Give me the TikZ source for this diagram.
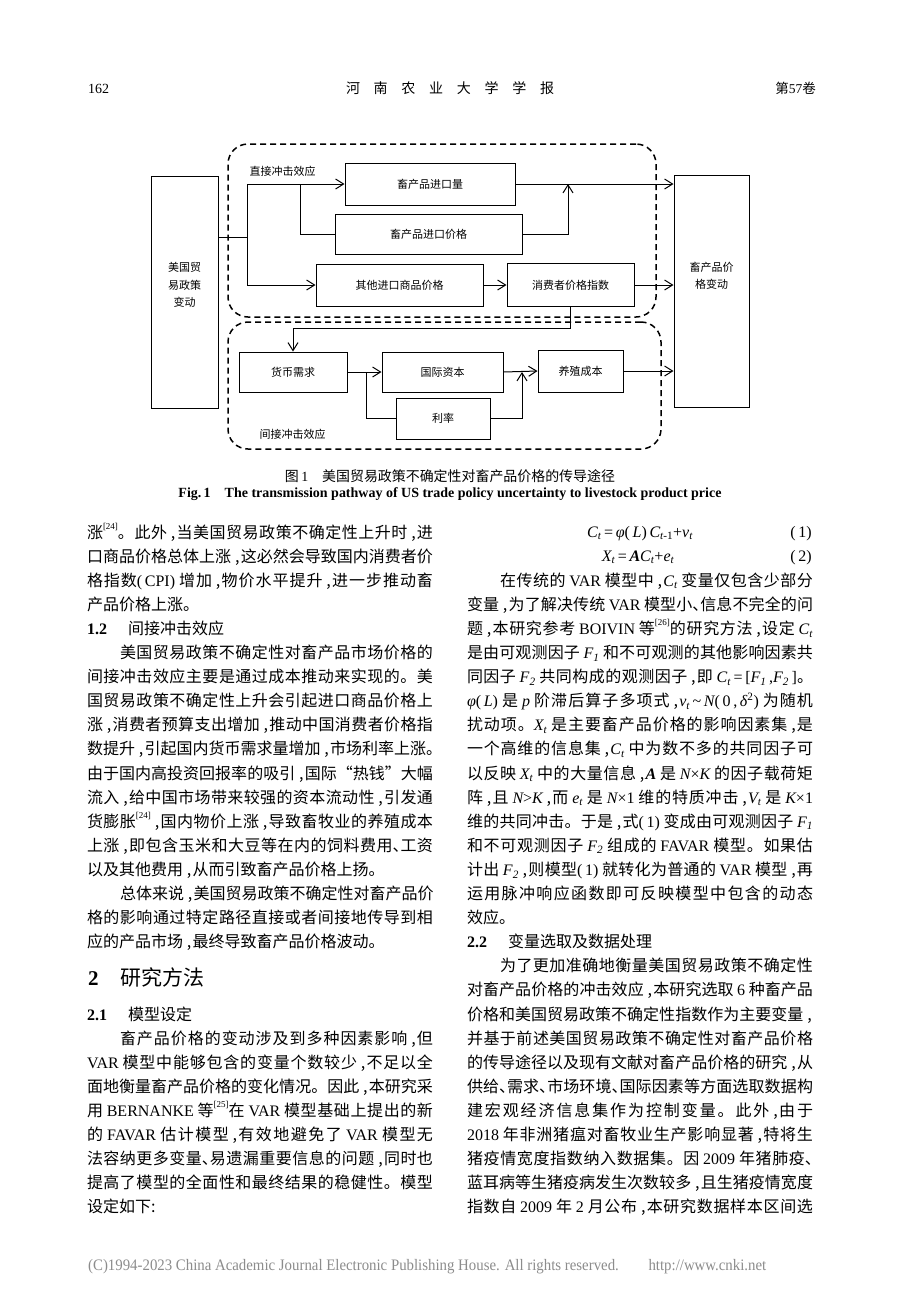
\documentclass[tikz,border=0pt]{standalone}
\usepackage{fontspec}
\usepackage{graphicx}
\setmainfont{Liberation Serif}
\newfontfamily\hei{Noto Sans CJK SC}
\usetikzlibrary{arrows.meta}
\hbadness=10000 \hfuzz=60pt \vbadness=10000
\newcount\cc
\cc="3000 \loop\ifnum\cc<"A000 \XeTeXcharclass\cc=10 \advance\cc by 1 \repeat
\cc="FF00 \loop\ifnum\cc<"FFF0 \XeTeXcharclass\cc=10 \advance\cc by 1 \repeat
\XeTeXinterchartoks 10 10 = {\hskip 0pt plus 2pt\relax}
\newcount\lc
\newcommand\cm{\hbox to .6em{\hfil,\kern.08em}}
\newcommand\dn{\hbox to .5em{、\hss}}
\newcommand\rf[1]{\raisebox{.55em}{\rmfamily\fontsize{9}{9}\selectfont[#1]}}
\newcommand\s{\hskip 3.5pt plus 1pt\relax}
\newcommand\R[1]{{\rmfamily #1}}
\newcommand\I[1]{{\rmfamily\itshape #1}}
\newcommand\sub[1]{\textsubscript{\rmfamily\itshape #1}}
\newcommand\bodyfont{\hei\fontsize{16}{16}\selectfont}
\newcommand\figfont{\hei\fontsize{11}{17.5}\selectfont}
\newcommand\JL[3]{\global\advance\lc by 1\relax
  \node[txt] (t\the\lc) at (#1,{538+24.1*#2}) {\hbox to 346pt{#3}};}
\newcommand\NL[3]{\global\advance\lc by 1\relax
  \node[txt] (t\the\lc) at (#1,{538+24.1*#2}) {#3};}
\begin{document}
\XeTeXinterchartokenstate=1
\begin{tikzpicture}[x=1pt,y=-1pt,
  txt/.style={anchor=base west, inner sep=0pt, outer sep=0pt, font=\bodyfont},
  box/.style={draw, line width=1pt, inner sep=0pt, font=\figfont},
  ftxt/.style={inner sep=0pt, font=\figfont, align=center},
  conn/.style={line width=1pt},
  arr/.style={line width=1pt, -{Straight Barb[length=8pt,width=10pt]}},
  dbox/.style={draw, line width=1.5pt, dash pattern=on 6pt off 4pt, rounded corners=20pt, inner sep=0pt}]
\useasboundingbox (0,0) rectangle (920,1302);
\fill[white] (0,0) rectangle (920,1302);

% ---------- header ----------
\node[anchor=base west, inner sep=0pt, font=\rmfamily\fontsize{14}{14}\selectfont] (pg) at (88,93) {162};
\node[inner sep=0pt, font=\hei\fontsize{14}{14}\selectfont] (ttl) at (450,88) {\hbox to 208pt{河\hfil 南\hfil 农\hfil 业\hfil 大\hfil 学\hfil 学\hfil 报}};
\node[anchor=base east, inner sep=0pt, font=\hei\fontsize{13.5}{14}\selectfont] (vol) at (816,93) {第\R{57}卷};

% ---------- figure ----------
\node[dbox, minimum width=428pt, minimum height=173pt] (grpA) at (442,230.5) {};
\node[dbox, minimum width=433pt, minimum height=127pt] (grpB) at (444.5,385.5) {};

\node[box, minimum width=67pt, minimum height=232pt] (us) at (184.5,292) {};
\node[ftxt] (usT) at (184.5,285) {美国贸\\易政策\\变动};
\node[box, minimum width=75pt, minimum height=232pt] (price) at (711.5,291) {};
\node[ftxt] (priceT) at (711.5,276) {畜产品价\\格变动};

\node[box, minimum width=170pt, minimum height=42pt] (imq) at (430,184) {畜产品进口量};
\node[box, minimum width=187pt, minimum height=40pt] (imp) at (428.5,234) {畜产品进口价格};
\node[box, minimum width=167pt, minimum height=42pt] (oth) at (399.5,285) {其他进口商品价格};
\node[box, minimum width=127pt, minimum height=43pt] (cpi) at (570.5,285) {消费者价格指数};

\node[box, minimum width=108pt, minimum height=40pt] (money) at (293,372) {货币需求};
\node[box, minimum width=121pt, minimum height=40pt] (cap) at (442.5,372) {国际资本};
\node[box, minimum width=94pt, minimum height=41pt] (rate) at (443,418.5) {利率};
\node[box, minimum width=85pt, minimum height=42pt] (cost) at (580.5,371) {养殖成本};

\node[ftxt] (labA) at (282.5,171) {直接冲击效应};
\node[ftxt] (labB) at (292.5,434) {间接冲击效应};

\coordinate (j0) at (247,237);
\coordinate (jA) at (247,184);
\coordinate (jB) at (247,285);
\coordinate (jP) at (300,184);
\coordinate (jC) at (568,184);
\coordinate (jD) at (293,328);
\coordinate (jE) at (366,372);
\coordinate (jF) at (522,372);

\draw[conn] (us.east |- j0) -- (j0);
\draw[conn] (jA) -- (jB);
\draw[arr] (jA) -- (imq.west);
\draw[arr] (jB) -- (oth.west);
\draw[conn] (jP) |- (imp.west);
\draw[arr] (imq.east) -- (imq.east -| price.west);
\draw[arr] (imp.east) -| (jC);
\draw[arr] (oth.east) -- (cpi.west);
\draw[arr] (cpi.east) -- (cpi.east -| price.west);
\draw[arr] (cpi.south) |- (jD) -- (money.north);
\draw[arr] (money.east) -- (cap.west);
\draw[conn] (jE) |- (rate.west);
\draw[arr] (cap.east) -- (cost.west);
\draw[arr] (rate.east) -| (jF);
\draw[arr] (cost.east) -- (cost.east -| price.west);

% ---------- captions ----------
\node[inner sep=0pt] (cap1) at (450,476) {\resizebox{330pt}{\height}{\hei\fontsize{14}{14}\selectfont 图\,\R{1}\quad 美国贸易政策不确定性对畜产品价格的传导途径}};
\node[inner sep=0pt] (cap2) at (450,494) {\resizebox{543pt}{\height}{\rmfamily\bfseries\fontsize{14}{14}\selectfont Fig.\,1\quad The transmission pathway of US trade policy uncertainty to livestock product price}};

% ---------- left column ----------
\JL{87}{0}{涨\rf{24}。此外\cm 当美国贸易政策不确定性上升时\cm 进}
\JL{87}{1}{口商品价格总体上涨\cm 这必然会导致国内消费者价}
\JL{87}{2}{格指数\R{(\,CPI)}\s 增加\cm 物价水平提升\cm 进一步推动畜}
\NL{87}{3}{产品价格上涨。}
\node[txt, font=\rmfamily\bfseries\fontsize{16}{16}\selectfont] (h12) at (87,{538+24.1*4}) {1.2};
\node[txt] (h12b) at (128,{538+24.1*4}) {间接冲击效应};
\JL{87}{5}{\hskip 33pt 美国贸易政策不确定性对畜产品市场价格的}
\JL{87}{6}{间接冲击效应主要是通过成本推动来实现的。美}
\JL{87}{7}{国贸易政策不确定性上升会引起进口商品价格上}
\JL{87}{8}{涨\cm 消费者预算支出增加\cm 推动中国消费者价格指}
\JL{87}{9}{数提升\cm 引起国内货币需求量增加\cm 市场利率上涨。}
\JL{87}{10}{由于国内高投资回报率的吸引\cm 国际“热钱”大幅}
\JL{87}{11}{流入\cm 给中国市场带来较强的资本流动性\cm 引发通}
\JL{87}{12}{货膨胀\rf{24}\cm 国内物价上涨\cm 导致畜牧业的养殖成本}
\JL{87}{13}{上涨\cm 即包含玉米和大豆等在内的饲料费用\dn 工资}
\NL{87}{14}{以及其他费用\cm 从而引致畜产品价格上扬。}
\JL{87}{15}{\hskip 33pt 总体来说\cm 美国贸易政策不确定性对畜产品价}
\JL{87}{16}{格的影响通过特定路径直接或者间接地传导到相}
\NL{87}{17}{应的产品市场\cm 最终导致畜产品价格波动。}
\node[txt, font=\rmfamily\bfseries\fontsize{21}{21}\selectfont] (h2) at (88,985.5) {2};
\node[txt, font=\hei\fontsize{21}{21}\selectfont] (h2b) at (120,985.5) {研究方法};
\node[txt, font=\rmfamily\bfseries\fontsize{16}{16}\selectfont] (h21) at (87,{538+24.1*20}) {2.1};
\node[txt] (h21b) at (128,{538+24.1*20}) {模型设定};
\JL{87}{21}{\hskip 33pt 畜产品价格的变动涉及到多种因素影响\cm 但}
\JL{87}{22}{\R{VAR}\s 模型中能够包含的变量个数较少\cm 不足以全}
\JL{87}{23}{面地衡量畜产品价格的变化情况。因此\cm 本研究采}
\JL{87}{24}{用\s\R{BERNANKE}\s 等\rf{25}在\s\R{VAR}\s 模型基础上提出的新}
\JL{87}{25}{的\s\R{FAVAR}\s 估计模型\cm 有效地避免了\s\R{VAR}\s 模型无}
\JL{87}{26}{法容纳更多变量\dn 易遗漏重要信息的问题\cm 同时也}
\JL{87}{27}{提高了模型的全面性和最终结果的稳健性。模型}
\NL{87}{28}{设定如下:}

% ---------- right column ----------
\node[anchor=base, inner sep=0pt, font=\rmfamily\fontsize{16}{16}\selectfont] (eq1) at (640,537) {\I{C}\sub{t}\,=\,\I{φ}(\,\I{L})\,\I{C}\textsubscript{\I{t}\R{-1}}+\I{ν}\sub{t}};
\node[anchor=base east, inner sep=0pt, font=\rmfamily\fontsize{16}{16}\selectfont] (eq1n) at (812,537) {(\,1)};
\node[anchor=base, inner sep=0pt, font=\rmfamily\fontsize{16}{16}\selectfont] (eq2) at (638,561) {\I{X}\sub{t}\,=\,{\bfseries\itshape A}\I{C}\sub{t}+\I{e}\sub{t}};
\node[anchor=base east, inner sep=0pt, font=\rmfamily\fontsize{16}{16}\selectfont] (eq2n) at (812,561) {(\,2)};
\JL{467}{2}{\hskip 33pt 在传统的\s\R{VAR}\s 模型中\cm \I{C}\sub{t}\s 变量仅包含少部分}
\JL{467}{3}{变量\cm 为了解决传统\s\R{VAR}\s 模型小\dn 信息不完全的问}
\JL{467}{4}{题\cm 本研究参考\s\R{BOIVIN}\s 等\rf{26}的研究方法\cm 设定\s\I{C}\sub{t}}
\JL{467}{5}{是由可观测因子\s\I{F}\sub{1}\s 和不可观测的其他影响因素共}
\JL{467}{6}{同因子\s\I{F}\sub{2}\s 共同构成的观测因子\cm 即\s\I{C}\sub{t}\,\R{=}\,\R{[}\I{F}\sub{1}\R{\,,}\I{F}\sub{2}\,\R{]}。}
\JL{467}{7}{\I{φ}\R{(\,}\I{L}\R{)}\s 是\s\I{p}\s 阶滞后算子多项式\cm \I{ν}\sub{t}\R{\,\textasciitilde\,}\I{N}\R{(\,0\,,\,}\I{δ}\textsuperscript{\R{2}}\R{)}\s 为随机}
\JL{467}{8}{扰动项。\I{X}\sub{t}\s 是主要畜产品价格的影响因素集\cm 是}
\JL{467}{9}{一个高维的信息集\cm \I{C}\sub{t}\s 中为数不多的共同因子可}
\JL{467}{10}{以反映\s\I{X}\sub{t}\s 中的大量信息\cm {\rmfamily\bfseries\itshape A}\s 是\s\I{N}\R{×}\I{K}\s 的因子载荷矩}
\JL{467}{11}{阵\cm 且\s\I{N}\R{>}\I{K}\cm 而\s\I{e}\sub{t}\s 是\s\I{N}\R{×1}\s 维的特质冲击\cm \I{V}\sub{t}\s 是\s\I{K}\R{×1}}
\JL{467}{12}{维的共同冲击。于是\cm 式\R{(\,1)}\s 变成由可观测因子\s\I{F}\sub{1}}
\JL{467}{13}{和不可观测因子\s\I{F}\sub{2}\s 组成的\s\R{FAVAR}\s 模型。如果估}
\JL{467}{14}{计出\s\I{F}\sub{2}\cm 则模型\R{(\,1)}\s 就转化为普通的\s\R{VAR}\s 模型\cm 再}
\JL{467}{15}{运用脉冲响应函数即可反映模型中包含的动态}
\NL{467}{16}{效应。}
\node[txt, font=\rmfamily\bfseries\fontsize{16}{16}\selectfont] (h22) at (467,{538+24.1*17}) {2.2};
\node[txt] (h22b) at (508,{538+24.1*17}) {变量选取及数据处理};
\JL{467}{18}{\hskip 33pt 为了更加准确地衡量美国贸易政策不确定性}
\JL{467}{19}{对畜产品价格的冲击效应\cm 本研究选取\s\R{6}\s 种畜产品}
\JL{467}{20}{价格和美国贸易政策不确定性指数作为主要变量\cm}
\JL{467}{21}{并基于前述美国贸易政策不确定性对畜产品价格}
\JL{467}{22}{的传导途径以及现有文献对畜产品价格的研究\cm 从}
\JL{467}{23}{供给\dn 需求\dn 市场环境\dn 国际因素等方面选取数据构}
\JL{467}{24}{建宏观经济信息集作为控制变量。此外\cm 由于}
\JL{467}{25}{\R{2018}\s 年非洲猪瘟对畜牧业生产影响显著\cm 特将生}
\JL{467}{26}{猪疫情宽度指数纳入数据集。因\s\R{2009}\s 年猪肺疫\dn}
\JL{467}{27}{蓝耳病等生猪疫病发生次数较多\cm 且生猪疫情宽度}
\JL{467}{28}{指数自\s\R{2009}\s 年\s\R{2}\s 月公布\cm 本研究数据样本区间选}

% ---------- footer ----------
\node[anchor=base west, inner sep=0pt, text=black!45] (ft) at (88,1270) {\resizebox{678pt}{\height}{\rmfamily\fontsize{16}{16}\selectfont (C)1994-2023 China Academic Journal Electronic Publishing House. All rights reserved.\hspace{2em}http://www.cnki.net}};
\end{tikzpicture}
\end{document}
